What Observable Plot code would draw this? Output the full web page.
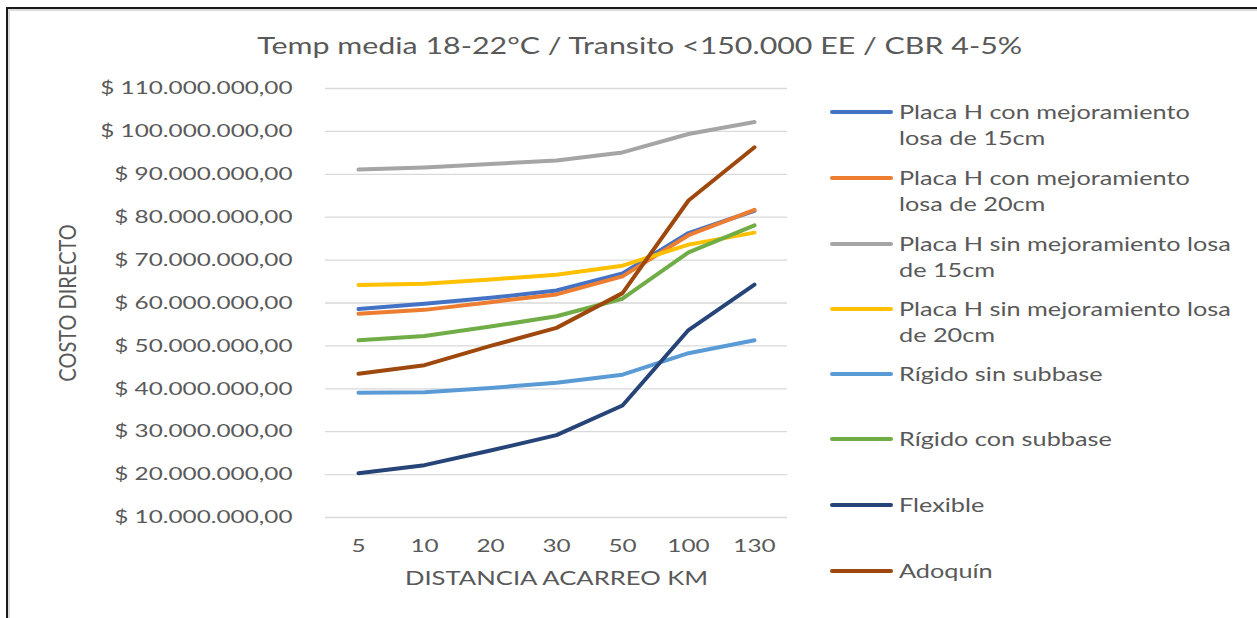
<!DOCTYPE html>
<html><head><meta charset="utf-8">
<script src="https://cdn.jsdelivr.net/npm/d3@7"></script>
<script src="https://cdn.jsdelivr.net/npm/@observablehq/plot@0.6"></script>
<style>
body{margin:0;background:#fff;font-family:Lato,sans-serif;color:#595959}
#wrap{position:relative;width:1257px;height:618px;overflow:hidden;background:#fff}
#frame{position:absolute;left:6px;top:7px;width:1300px;height:700px;border-left:2px solid #1a1a1a;border-top:2px solid #1a1a1a;box-shadow:inset 2px 2px 0 #dcdcdc}
#title{position:absolute;left:0;width:1280px;top:30px;text-align:center;font-size:23px;line-height:30px;white-space:nowrap}
#title span{display:inline-block;transform:scaleX(1.32);transform-origin:50% 50%}
#chart{position:absolute;left:0;top:70px}
.leg{position:absolute;left:830px;font-size:19px;line-height:25.5px;height:60px;width:420px}
.sw{position:absolute;left:0;top:11px;width:63px;height:4px;border-radius:2px}
.lt{position:absolute;left:69px;top:0;white-space:nowrap;transform:scaleX(1.33);transform-origin:0 0}
</style>
</head><body>
<div id="wrap">
  <div id="frame"></div>
  <div id="title"><span id="titleText"></span></div>
  <div id="chart"></div>
  <div id="legend"></div>
</div>
<script>
const titulo = "Temp media 18-22°C / Transito <150.000 EE / CBR 4-5%";
const distancias = ["5", "10", "20", "30", "50", "100", "130"];
const yTicks = [10000000, 20000000, 30000000, 40000000, 50000000, 60000000, 70000000, 80000000, 90000000, 100000000, 110000000];
const series = [
  "Placa H con mejoramiento losa de 15cm",
  "Placa H con mejoramiento losa de 20cm",
  "Placa H sin mejoramiento losa de 15cm",
  "Placa H sin mejoramiento losa de 20cm",
  "Rígido sin subbase",
  "Rígido con subbase",
  "Flexible",
  "Adoquín"
];
const legendLines = [
  ["Placa H con mejoramiento", "losa de 15cm"],
  ["Placa H con mejoramiento", "losa de 20cm"],
  ["Placa H sin mejoramiento losa", "de 15cm"],
  ["Placa H sin mejoramiento losa", "de 20cm"],
  ["Rígido sin subbase"],
  ["Rígido con subbase"],
  ["Flexible"],
  ["Adoquín"]
];
const colores = ["#4472C4", "#ED7D31", "#A5A5A5", "#FFC000", "#5B9BD5", "#70AD47", "#264478", "#9E480E"];

const placaHCon15 = [58600000, 59800000, 61200000, 62900000, 66900000, 76300000, 81500000];
const placaHCon20 = [57500000, 58400000, 60200000, 62000000, 66200000, 75800000, 81700000];
const placaHSin15 = [91100000, 91600000, 92400000, 93200000, 95100000, 99400000, 102200000];
const placaHSin20 = [64200000, 64500000, 65500000, 66600000, 68700000, 73600000, 76400000];
const rigidoSinSubbase = [39100000, 39200000, 40200000, 41400000, 43300000, 48300000, 51300000];
const rigidoConSubbase = [51300000, 52300000, 54500000, 56900000, 61000000, 71800000, 78100000];
const flexible = [20300000, 22200000, 25600000, 29200000, 36100000, 53700000, 64300000];
const adoquin = [43500000, 45500000, 50000000, 54200000, 62300000, 83900000, 96300000];
const valores = [placaHCon15, placaHCon20, placaHSin15, placaHSin20, rigidoSinSubbase, rigidoConSubbase, flexible, adoquin];

const legendY = [112, 178, 244, 309, 374, 439, 505, 571];
const K = 1.35;

document.getElementById("titleText").textContent = titulo;

const data = series.flatMap((s, i) => valores[i].map((v, j) => ({serie: s, dist: distancias[j], costo: v})));
const fmt = d3.formatLocale({decimal: ",", thousands: ".", grouping: [3], currency: ["$ ", ""]}).format("$,.2f");

const chart = Plot.plot({
  width: 820, height: 548,
  marginLeft: 325, marginRight: 33, marginTop: 18, marginBottom: 101,
  style: {fontFamily: "Lato, sans-serif", fontSize: "18px", color: "#595959", background: "transparent", overflow: "visible"},
  x: {type: "point", domain: distancias, padding: 0.5},
  y: {domain: [10000000, 110000000]},
  color: {domain: series, range: colores},
  marks: [
    Plot.ruleY(yTicks, {stroke: "#d9d9d9", strokeWidth: 1.3}),
    Plot.axisY(yTicks, {tickSize: 0, tickPadding: 33, tickFormat: fmt, label: null, fill: "#595959", fontSize: 18}),
    Plot.axisX({tickSize: 0, tickPadding: 22, label: null, fill: "#595959", fontSize: 18}),
    Plot.text(["COSTO DIRECTO"], {frameAnchor: "left", textAnchor: "middle", rotate: -90, dx: -257, fontSize: 20, fill: "#595959"}),
    Plot.text(["DISTANCIA ACARREO KM"], {frameAnchor: "bottom", dy: 67, fontSize: 19, fill: "#595959"}),
    Plot.lineY(data, {x: "dist", y: "costo", stroke: "serie", strokeWidth: 4, strokeLinecap: "round", strokeLinejoin: "round"})
  ]
});
document.getElementById("chart").appendChild(chart);

// widen glyphs horizontally (about each text's own anchor), as in the reference
chart.querySelectorAll("text").forEach(t => {
  const tr = t.getAttribute("transform") || "";
  const rotated = /rotate/.test(tr);
  const b = t.getBBox();
  if (!b.width) return;
  const anchor = getComputedStyle(t).textAnchor;
  const ax = anchor === "end" ? b.x + b.width : anchor === "middle" ? b.x + b.width / 2 : b.x;
  const ay = b.y + b.height / 2;
  const sc = rotated ? "scale(1,1.15)" : `scale(${K},1)`;
  t.setAttribute("transform", `${tr} translate(${ax},${ay}) ${sc} translate(${-ax},${-ay})`);
});

const legend = document.getElementById("legend");
series.forEach((s, i) => {
  const d = document.createElement("div");
  d.className = "leg";
  d.style.top = (legendY[i] - 13) + "px";
  const sw = document.createElement("div");
  sw.className = "sw";
  sw.style.background = colores[i];
  const lt = document.createElement("div");
  lt.className = "lt";
  legendLines[i].forEach((l, k) => {
    if (k) lt.appendChild(document.createElement("br"));
    lt.appendChild(document.createTextNode(l));
  });
  d.appendChild(sw); d.appendChild(lt);
  legend.appendChild(d);
});
</script>
</body></html>
